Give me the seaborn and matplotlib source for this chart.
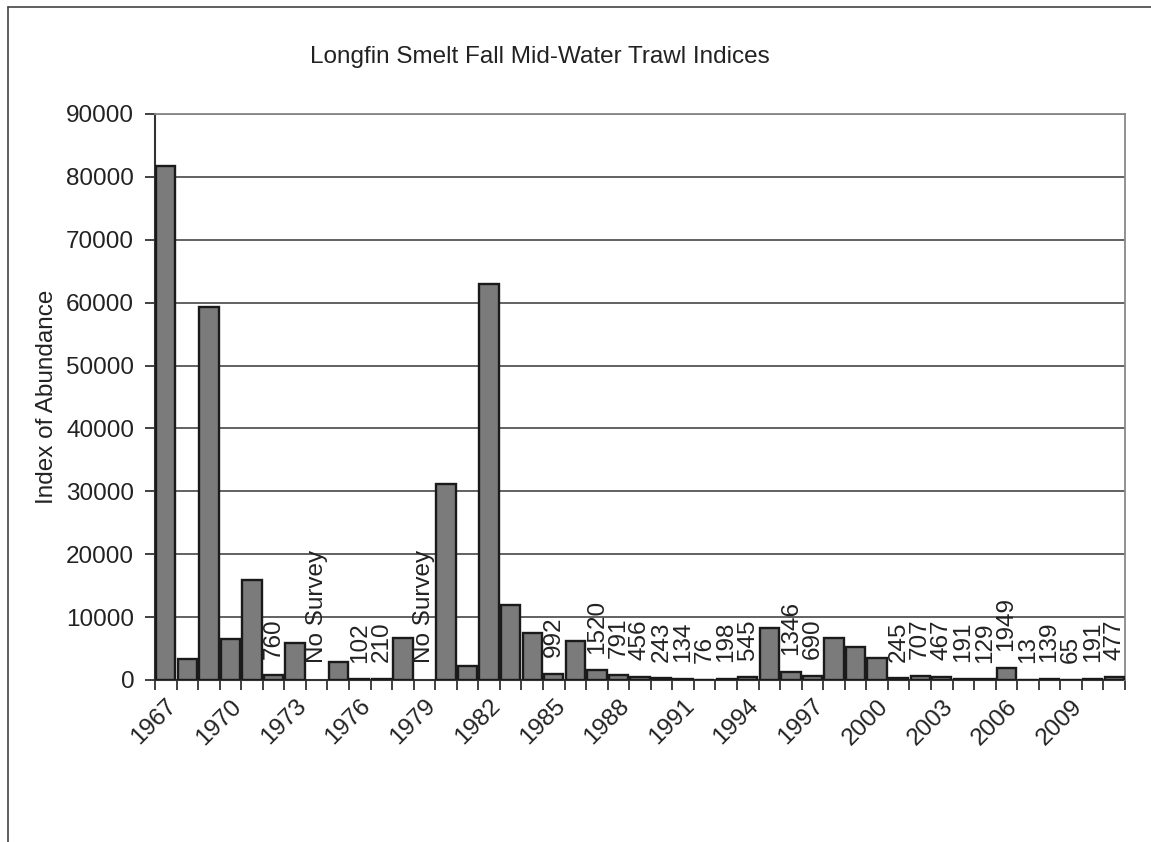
import numpy as np
import pandas as pd
import matplotlib
matplotlib.use("Agg")
import matplotlib.pyplot as plt
import seaborn as sns
from matplotlib.lines import Line2D

# Longfin smelt FMWT index per year (None = no survey)
years = list(range(1967, 2012))
index_values = [81737, 3279, 59350, 6515, 15903, 760, 5896, None, 2819, 102,
                210, 6619, None, 31184, 2202, 62905, 11864, 7408, 992, 6160,
                1520, 791, 456, 243, 134, 76, 198, 545, 8205, 1346,
                690, 6654, 5243, 3437, 245, 707, 467, 191, 129, 1949,
                13, 139, 65, 191, 477]
tick_years = [str(y) for y in range(1967, 2012, 3)]
y_ticks = list(range(0, 90001, 10000))

df = pd.DataFrame({"year": [str(y) for y in years],
                   "index": [np.nan if v is None else v for v in index_values]})

sns.set_style("white")
plt.rcParams['font.family'] = ['Liberation Sans', 'DejaVu Sans']
text_col = "#222222"
fs = 17.5

fig = plt.figure(figsize=(11.51, 8.42), dpi=100)
ax = fig.add_axes([155/1151, 1-680/842, (1125-155)/1151, (680-114)/842])

sns.barplot(data=df, x="year", y="index", order=df["year"], ax=ax,
            color="#7b7b7c", saturation=1, width=0.9,
            edgecolor="#1a1a1a", linewidth=1.7, zorder=3)

ax.set_ylim(0, 90000)
ax.set_xlim(-0.5, len(years) - 0.5)
ax.set_yticks(y_ticks)
ax.set_yticklabels([str(t) for t in y_ticks], fontsize=fs, color=text_col)
ax.yaxis.grid(True, color="#555555", linewidth=1.3, zorder=0)
ax.set_axisbelow(True)

# labels centred on categories, tick marks on category boundaries
pos = [years.index(int(t)) for t in tick_years]
ax.set_xticks(pos)
ax.set_xticklabels(tick_years, rotation=45, ha="right", va="top",
                   rotation_mode="anchor", fontsize=fs, color=text_col)
ax.tick_params(axis="x", which="major", length=0, pad=11)
ax.set_xticks(np.arange(-0.5, len(years), 1.0), minor=True)
ax.tick_params(axis="x", which="minor", length=7, width=1.3, color="#333333",
               direction="out", bottom=True)
ax.tick_params(axis="y", length=7, width=1.3, color="#333333",
               direction="out", left=True, pad=8)

for side in ["top", "right"]:
    ax.spines[side].set_color("#888888")
    ax.spines[side].set_linewidth(1.3)
for side in ["left", "bottom"]:
    ax.spines[side].set_color("#333333")
    ax.spines[side].set_linewidth(1.5)
    ax.spines[side].set_zorder(2)

# value labels for the small bars
for i, v in enumerate(index_values):
    if v is None:
        lab, h = "No Survey", 0
    elif v < 2000:
        lab, h = str(v), v
    else:
        continue
    ax.annotate(lab, (i, h), xytext=(0, 12), textcoords="offset points",
                rotation=90, ha="center", va="bottom", fontsize=fs,
                color=text_col)

ax.set_xlabel("")
ax.set_ylabel("Index of Abundance", fontsize=fs, color=text_col)
ax.yaxis.set_label_coords((58 - 155) / 970, 0.5)

fig.text(540/1151, 1-57/842, "Longfin Smelt Fall Mid-Water Trawl Indices",
         ha="center", va="center", fontsize=fs, color=text_col)

# outer chart frame (top and left edges visible)
fig.add_artist(Line2D([8/1151, 1], [1-7/842, 1-7/842], transform=fig.transFigure,
                      color="#444444", linewidth=1.2))
fig.add_artist(Line2D([8/1151, 8/1151], [0, 1-7/842], transform=fig.transFigure,
                      color="#444444", linewidth=1.2))

fig.savefig("out.png", dpi=100)
